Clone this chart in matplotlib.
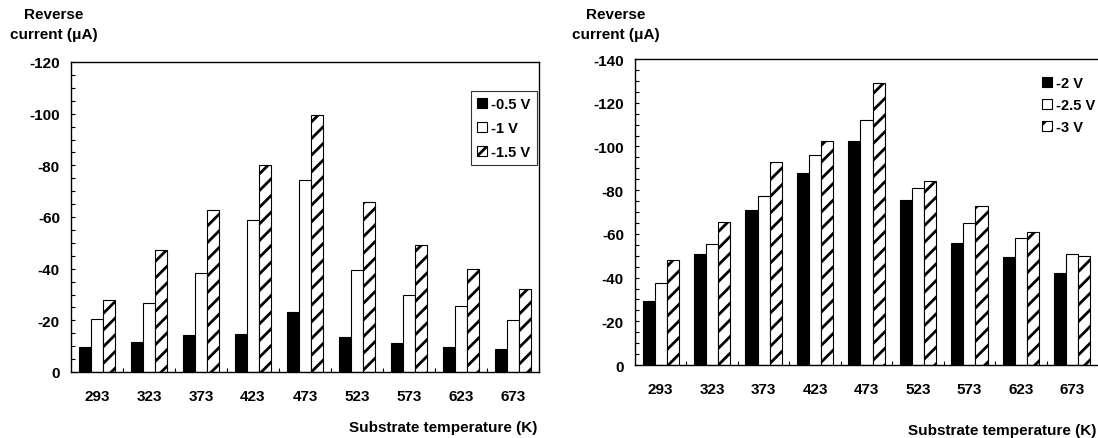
import matplotlib
matplotlib.use("Agg")
import matplotlib.pyplot as plt
import numpy as np
from matplotlib.patches import Patch
from matplotlib.ticker import MultipleLocator

plt.rcParams["font.family"] = ["Liberation Sans", "DejaVu Sans"]
plt.rcParams["font.weight"] = "bold"
plt.rcParams["axes.unicode_minus"] = False
plt.rcParams["hatch.linewidth"] = 2.0

temps = ["293", "323", "373", "423", "473", "523", "573", "623", "673"]

# low bias sweep (uA)
low_labels = ["-0.5 V", "-1 V", "-1.5 V"]
i_05 = [-9.8, -11.6, -14.5, -14.9, -23.3, -13.5, -11.3, -9.8, -8.8]
i_10 = [-20.4, -26.9, -38.4, -58.9, -74.3, -39.3, -29.8, -25.5, -20.3]
i_15 = [-27.8, -47.3, -62.6, -80.3, -99.4, -65.8, -49.0, -39.8, -32.3]

# high bias sweep (uA)
high_labels = ["-2 V", "-2.5 V", "-3 V"]
i_20 = [-29.2, -51.0, -70.7, -87.8, -102.4, -75.6, -55.9, -49.5, -42.1]
i_25 = [-37.7, -55.3, -77.1, -96.3, -112.2, -80.9, -65.0, -58.0, -50.8]
i_30 = [-48.2, -65.2, -93.1, -102.6, -129.2, -84.4, -72.8, -60.8, -49.9]

styles = [
    dict(facecolor="black", hatch=None),
    dict(facecolor="white", hatch=None),
    dict(facecolor="white", hatch="//"),
]

FS = 11
W, H = 1098, 439
fig = plt.figure(figsize=(W / 100, H / 100), dpi=100)


def panel(box, series, labels, ymin, legend_frame, legend_loc, spacing):
    l, t, r, b = box
    ax = fig.add_axes([l / W, 1 - b / H, (r - l) / W, (b - t) / H])
    x = np.arange(len(temps))
    bw = 0.235
    for k, (vals, lab, st) in enumerate(zip(series, labels, styles)):
        ax.bar(x + (k - 1) * bw, vals, width=bw, label=lab,
               facecolor=st["facecolor"], hatch=st["hatch"],
               edgecolor="black", linewidth=0.8, zorder=2)
    ax.set_xlim(-0.5, len(temps) - 0.5)
    ax.set_ylim(0, ymin)
    ax.set_xticks(x)
    ax.set_xticklabels(temps)
    ax.set_xticks(x[:-1] + 0.5, minor=True)
    ax.yaxis.set_major_locator(MultipleLocator(20))
    ax.yaxis.set_minor_locator(MultipleLocator(5))
    ax.tick_params(axis="both", which="both", direction="in", length=3,
                   width=0.8, labelsize=FS, zorder=3)
    ax.tick_params(axis="y", pad=8)
    ax.tick_params(axis="x", pad=12.5)
    for s in ax.spines.values():
        s.set_linewidth(1.0)
        s.set_zorder(4)
    handles = [Patch(facecolor=st["facecolor"], hatch=st["hatch"],
                     edgecolor="black", linewidth=0.8) for st in styles]
    leg = ax.legend(handles, labels, loc="upper left", bbox_to_anchor=legend_loc,
                    frameon=legend_frame, fancybox=False, fontsize=10.5,
                    handlelength=0.7, handleheight=0.7, handletextpad=0.3,
                    labelspacing=spacing, borderpad=0.4, borderaxespad=0)
    if legend_frame:
        leg.get_frame().set_edgecolor("black")
        leg.get_frame().set_linewidth(0.8)
    return ax


ax1 = panel((71, 63, 539, 373), [i_05, i_10, i_15], low_labels, -120,
            True, ((471 - 71) / 468, 1 - (92 - 63) / 310), 0.7)
ax2 = panel((635, 60, 1098, 366), [i_20, i_25, i_30], high_labels, -140,
            False, ((1036 - 635) / 463, 1 - (71 - 60) / 306), 0.55)
ax2.spines["right"].set_visible(False)

for cx in (54, 616):
    fig.text(cx / W, 1 - 25 / H, "Reverse\ncurrent (μA)", ha="center",
             va="center", fontsize=FS, linespacing=1.5, multialignment="center")

fig.text(537 / W, 1 - 428 / H, "Substrate temperature (K)", ha="right",
         va="center", fontsize=FS)
fig.text(1096 / W, 1 - 431 / H, "Substrate temperature (K)", ha="right",
         va="center", fontsize=FS)

fig.savefig("out.png", dpi=100)
